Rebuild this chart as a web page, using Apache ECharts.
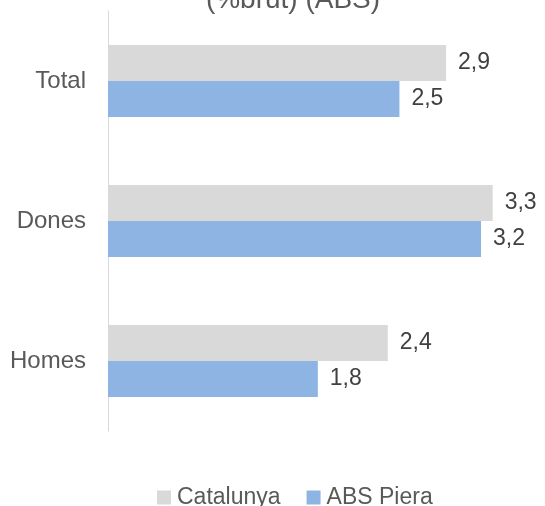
<!DOCTYPE html>
<html>
<head>
<meta charset="utf-8">
<script src="https://cdn.jsdelivr.net/npm/echarts@6/dist/echarts.min.js"></script>
<style>
  html, body { margin: 0; padding: 0; background: #fff; }
  #chart { width: 545px; height: 506px; }
</style>
</head>
<body>
<div id="chart"></div>
<script>
const categories = ["Total", "Dones", "Homes"];
const catalunya = [2.9, 3.3, 2.4];
const absPiera = [2.5, 3.2, 1.8];
const seriesNames = ["Catalunya", "ABS Piera"];

const font = "Arial, Liberation Sans, sans-serif";
const chart = echarts.init(document.getElementById("chart"));
const fmt = p => String(p.value).replace(".", ",");
const label = {
    show: true,
    position: "right",
    distance: 12,
    color: "#404040",
    fontSize: 23,
    fontFamily: font,
    formatter: fmt,
};
chart.setOption({
    animation: false,
    title: {
        text: "(%brut) (ABS)",
        left: 288,
        textAlign: "center",
        top: -19,
        textStyle: {
            color: "#595959",
            fontSize: 28,
            fontWeight: "normal",
            fontFamily: font,
        },
    },
    legend: {
        top: 481,
        left: 152,
        itemWidth: 14,
        itemHeight: 14,
        itemGap: 26,
        icon: "rect",
        textStyle: {
            color: "#595959",
            fontSize: 23,
            fontFamily: font,
            padding: [0, 0, 0, 1],
        },
        data: seriesNames,
    },
    grid: {
        left: 108,
        top: 11,
        width: 408,
        height: 420,
    },
    xAxis: {
        type: "value",
        min: 0,
        max: 3.5,
        show: false,
    },
    yAxis: {
        type: "category",
        inverse: true,
        data: categories,
        axisTick: { show: false },
        axisLine: { lineStyle: { color: "#D9D9D9", width: 1 } },
        axisLabel: {
            color: "#595959",
            fontSize: 24,
            margin: 22,
            fontFamily: font,
        },
    },
    series: [
        {
            name: seriesNames[0],
            type: "bar",
            data: catalunya,
            itemStyle: { color: "#D9D9D9" },
            barGap: "0%",
            barCategoryGap: "48.6%",
            label: label,
        },
        {
            name: seriesNames[1],
            type: "bar",
            data: absPiera,
            itemStyle: { color: "#8DB4E2" },
            label: label,
        },
    ],
});
</script>
</body>
</html>
